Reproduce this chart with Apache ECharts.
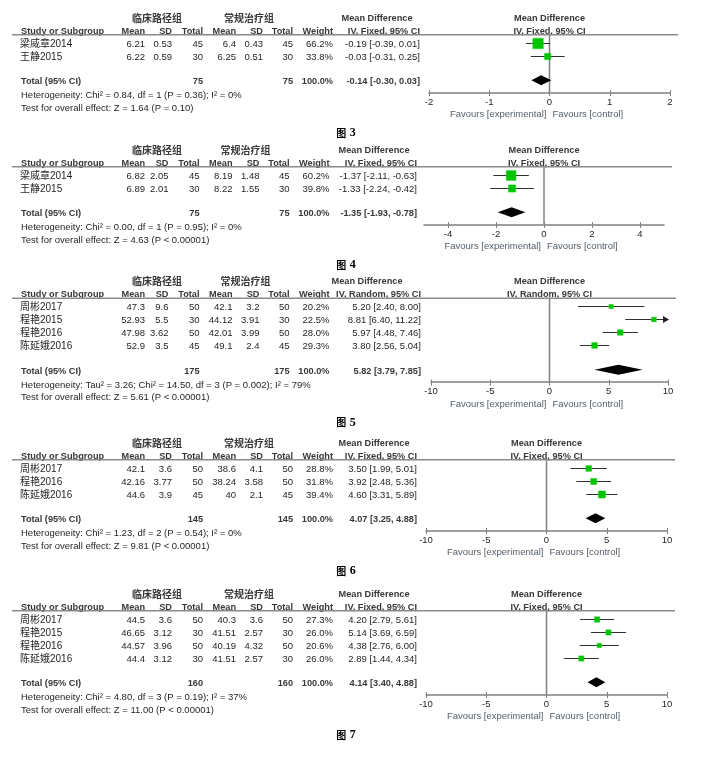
<!DOCTYPE html>
<html><head><meta charset="utf-8">
<script src="https://cdn.jsdelivr.net/npm/echarts@6/dist/echarts.min.js"></script>
<style>html,body{margin:0;padding:0;background:#fff}#c{width:721px;height:757px}</style>
</head><body><div id="c"></div>
<script>
// ================= DATA =================
// 图 3
const fig3Studies = ['梁威章2014', '王静2015'];
const fig3ExpMean = [6.21, 6.22];
const fig3ExpSD = [0.53, 0.59];
const fig3ExpN = [45, 30];
const fig3CtlMean = [6.4, 6.25];
const fig3CtlSD = [0.43, 0.51];
const fig3CtlN = [45, 30];
const fig3Weight = [66.2, 33.8];
const fig3MD = [-0.19, -0.03];
const fig3Lo = [-0.39, -0.31];
const fig3Hi = [0.01, 0.25];
const fig3Total = [-0.14, -0.30, 0.03];
const fig3TotalN = [75, 75];
const fig3Method = 'IV, Fixed, 95% CI';
const fig3Het = 'Heterogeneity: Chi² = 0.84, df = 1 (P = 0.36); I² = 0%';
const fig3Test = 'Test for overall effect: Z = 1.64 (P = 0.10)';
const fig3Ticks = [-2, -1, 0, 1, 2];
const fig3Range = [-2, 2];

// 图 4
const fig4Studies = ['梁威章2014', '王静2015'];
const fig4ExpMean = [6.82, 6.89];
const fig4ExpSD = [2.05, 2.01];
const fig4ExpN = [45, 30];
const fig4CtlMean = [8.19, 8.22];
const fig4CtlSD = [1.48, 1.55];
const fig4CtlN = [45, 30];
const fig4Weight = [60.2, 39.8];
const fig4MD = [-1.37, -1.33];
const fig4Lo = [-2.11, -2.24];
const fig4Hi = [-0.63, -0.42];
const fig4Total = [-1.35, -1.93, -0.78];
const fig4TotalN = [75, 75];
const fig4Method = 'IV, Fixed, 95% CI';
const fig4Het = 'Heterogeneity: Chi² = 0.00, df = 1 (P = 0.95); I² = 0%';
const fig4Test = 'Test for overall effect: Z = 4.63 (P < 0.00001)';
const fig4Ticks = [-4, -2, 0, 2, 4];
const fig4Range = [-5, 5];

// 图 5
const fig5Studies = ['周彬2017', '程艳2015', '程艳2016', '陈延娥2016'];
const fig5ExpMean = [47.3, 52.93, 47.98, 52.9];
const fig5ExpSD = [9.6, 5.5, 3.62, 3.5];
const fig5ExpN = [50, 30, 50, 45];
const fig5CtlMean = [42.1, 44.12, 42.01, 49.1];
const fig5CtlSD = [3.2, 3.91, 3.99, 2.4];
const fig5CtlN = [50, 30, 50, 45];
const fig5Weight = [20.2, 22.5, 28.0, 29.3];
const fig5MD = [5.20, 8.81, 5.97, 3.80];
const fig5Lo = [2.40, 6.40, 4.48, 2.56];
const fig5Hi = [8.00, 11.22, 7.46, 5.04];
const fig5Total = [5.82, 3.79, 7.85];
const fig5TotalN = [175, 175];
const fig5Method = 'IV, Random, 95% CI';
const fig5Het = 'Heterogeneity: Tau² = 3.26; Chi² = 14.50, df = 3 (P = 0.002); I² = 79%';
const fig5Test = 'Test for overall effect: Z = 5.61 (P < 0.00001)';
const fig5Ticks = [-10, -5, 0, 5, 10];
const fig5Range = [-10, 10];

// 图 6
const fig6Studies = ['周彬2017', '程艳2016', '陈延娥2016'];
const fig6ExpMean = [42.1, 42.16, 44.6];
const fig6ExpSD = [3.6, 3.77, 3.9];
const fig6ExpN = [50, 50, 45];
const fig6CtlMean = [38.6, 38.24, 40];
const fig6CtlSD = [4.1, 3.58, 2.1];
const fig6CtlN = [50, 50, 45];
const fig6Weight = [28.8, 31.8, 39.4];
const fig6MD = [3.50, 3.92, 4.60];
const fig6Lo = [1.99, 2.48, 3.31];
const fig6Hi = [5.01, 5.36, 5.89];
const fig6Total = [4.07, 3.25, 4.88];
const fig6TotalN = [145, 145];
const fig6Method = 'IV, Fixed, 95% CI';
const fig6Het = 'Heterogeneity: Chi² = 1.23, df = 2 (P = 0.54); I² = 0%';
const fig6Test = 'Test for overall effect: Z = 9.81 (P < 0.00001)';
const fig6Ticks = [-10, -5, 0, 5, 10];
const fig6Range = [-10, 10];

// 图 7
const fig7Studies = ['周彬2017', '程艳2015', '程艳2016', '陈延娥2016'];
const fig7ExpMean = [44.5, 46.65, 44.57, 44.4];
const fig7ExpSD = [3.6, 3.12, 3.96, 3.12];
const fig7ExpN = [50, 30, 50, 30];
const fig7CtlMean = [40.3, 41.51, 40.19, 41.51];
const fig7CtlSD = [3.6, 2.57, 4.32, 2.57];
const fig7CtlN = [50, 30, 50, 30];
const fig7Weight = [27.3, 26.0, 20.6, 26.0];
const fig7MD = [4.20, 5.14, 4.38, 2.89];
const fig7Lo = [2.79, 3.69, 2.76, 1.44];
const fig7Hi = [5.61, 6.59, 6.00, 4.34];
const fig7Total = [4.14, 3.40, 4.88];
const fig7TotalN = [160, 160];
const fig7Method = 'IV, Fixed, 95% CI';
const fig7Het = 'Heterogeneity: Chi² = 4.80, df = 3 (P = 0.19); I² = 37%';
const fig7Test = 'Test for overall effect: Z = 11.00 (P < 0.00001)';
const fig7Ticks = [-10, -5, 0, 5, 10];
const fig7Range = [-10, 10];

const captions = ['3', '4', '5', '6', '7'];
const expGroup = '临床路径组';
const ctlGroup = '常规治疗组';
const favLeft = 'Favours [experimental]';
const favRight = 'Favours [control]';

function mk(s, em, esd, en, cm, csd, cn, w, md, lo, hi, tot, totN, method, het, test, ticks, range) {
  return {s, em, esd, en, cm, csd, cn, w, md, lo, hi, tot, totN, method, het, test, ticks, range};
}
const panels = [
  mk(fig3Studies, fig3ExpMean, fig3ExpSD, fig3ExpN, fig3CtlMean, fig3CtlSD, fig3CtlN, fig3Weight, fig3MD, fig3Lo, fig3Hi, fig3Total, fig3TotalN, fig3Method, fig3Het, fig3Test, fig3Ticks, fig3Range),
  mk(fig4Studies, fig4ExpMean, fig4ExpSD, fig4ExpN, fig4CtlMean, fig4CtlSD, fig4CtlN, fig4Weight, fig4MD, fig4Lo, fig4Hi, fig4Total, fig4TotalN, fig4Method, fig4Het, fig4Test, fig4Ticks, fig4Range),
  mk(fig5Studies, fig5ExpMean, fig5ExpSD, fig5ExpN, fig5CtlMean, fig5CtlSD, fig5CtlN, fig5Weight, fig5MD, fig5Lo, fig5Hi, fig5Total, fig5TotalN, fig5Method, fig5Het, fig5Test, fig5Ticks, fig5Range),
  mk(fig6Studies, fig6ExpMean, fig6ExpSD, fig6ExpN, fig6CtlMean, fig6CtlSD, fig6CtlN, fig6Weight, fig6MD, fig6Lo, fig6Hi, fig6Total, fig6TotalN, fig6Method, fig6Het, fig6Test, fig6Ticks, fig6Range),
  mk(fig7Studies, fig7ExpMean, fig7ExpSD, fig7ExpN, fig7CtlMean, fig7CtlSD, fig7CtlN, fig7Weight, fig7MD, fig7Lo, fig7Hi, fig7Total, fig7TotalN, fig7Method, fig7Het, fig7Test, fig7Ticks, fig7Range)
];

// ================= LAYOUT =================
const gridTops = [35.35, 167.35, 298.85, 460.35, 611.35];
const gridLefts = [429, 424, 431, 426, 426];
const gridWidths = [241, 240, 237, 241, 241];
const colShift = [0, -3.5, -3.5, 0, 0];     // shift of SD..Weight columns per panel
const mdShift = [0, -3, 1, -3, -3];         // shift of Mean Difference column per panel
const PITCH = 13;
const Y_MIN = -0.55;
const TOTAL_GAP = 1.9;
const AXIS_GAP = 0.95;
const FONT = "'Liberation Sans', Arial, 'Noto Sans CJK SC', sans-serif";
const CJK = "'Noto Sans CJK SC', sans-serif";
const TXT = '#1f1f1f';
const HDR = '#383838';
const baseCols = {name: 20, em: 145, esd: 172, en: 203, cm: 236, csd: 263, cn: 293, w: 333, md: 420};

const f2 = v => v.toFixed(2);
const ciStr = (m, l, h) => `${f2(m)} [${f2(l)}, ${f2(h)}]`;

const grids = [], xAxes = [], yAxes = [], series = [], graphics = [];

panels.forEach((p, i) => {
  const n = p.s.length;
  const cs = colShift[i];
  const cols = {
    name: baseCols.name, em: baseCols.em, esd: baseCols.esd + cs, en: baseCols.en + cs, cm: baseCols.cm + cs,
    csd: baseCols.csd + cs, cn: baseCols.cn + cs, w: baseCols.w + cs, md: baseCols.md + mdShift[i]
  };
  const yMax = n - 1 + TOTAL_GAP + AXIS_GAP;
  const height = (yMax - Y_MIN) * PITCH;
  const top = gridTops[i], left = gridLefts[i], width = gridWidths[i];
  const [xmin, xmax] = p.range;
  grids.push({left, top, width, height, outerBoundsMode: 'none', containLabel: false});
  const axisColor = '#808080';
  xAxes.push({
    type: 'value', gridIndex: i, min: xmin, max: xmax, position: 'bottom',
    axisLine: {show: true, onZero: false, lineStyle: {color: axisColor, width: 1.5}},
    axisTick: {show: true, length: 3.5, customValues: p.ticks, lineStyle: {color: axisColor, width: 1}},
    axisLabel: {show: true, customValues: p.ticks, margin: 5, fontSize: 9.5, color: TXT, fontFamily: FONT},
    splitLine: {show: false}
  });
  // second axis: positioned at top then shifted down onto the bottom line, giving upward tick halves
  xAxes.push({
    type: 'value', gridIndex: i, min: xmin, max: xmax, position: 'top', offset: -height,
    axisLine: {show: false, onZero: false},
    axisTick: {show: true, inside: false, length: 2.5, customValues: p.ticks, lineStyle: {color: axisColor, width: 1}},
    axisLabel: {show: false},
    splitLine: {show: false}
  });
  yAxes.push({type: 'value', gridIndex: i, min: Y_MIN, max: yMax, inverse: true, show: false});

  // zero line
  series.push({
    type: 'line', xAxisIndex: 2 * i, yAxisIndex: i, data: [[0, Y_MIN], [0, yMax]],
    showSymbol: false, symbol: 'none', lineStyle: {color: axisColor, width: 1.5},
    silent: true, animation: false, z: 1
  });

  // studies
  const rows = p.s.map((_, k) => [p.md[k], p.lo[k], p.hi[k], p.w[k], k]);
  series.push({
    type: 'custom', xAxisIndex: 2 * i, yAxisIndex: i, data: rows, clip: false,
    encode: {x: [0, 1, 2], y: 4}, animation: false, silent: true, z: 3,
    renderItem: (params, api) => {
      const md = api.value(0), lo = api.value(1), hi = api.value(2), w = api.value(3), r = api.value(4);
      const a = api.coord([Math.max(lo, xmin), r]);
      const b = api.coord([Math.min(hi, xmax), r]);
      const c = api.coord([md, r]);
      const s = 0.45 * Math.pow(w, 0.75);
      const yy = Math.round(a[1]) + 0.5;
      const children = [{type: 'line', shape: {x1: a[0], y1: yy, x2: b[0], y2: yy}, style: {stroke: '#303030', lineWidth: 1}}];
      if (hi > xmax) children.push({type: 'polygon', shape: {points: [[b[0] + 1, yy], [b[0] - 5, yy - 3.5], [b[0] - 5, yy + 3.5]]}, style: {fill: '#202020'}});
      if (lo < xmin) children.push({type: 'polygon', shape: {points: [[a[0] - 1, yy], [a[0] + 5, yy - 3.5], [a[0] + 5, yy + 3.5]]}, style: {fill: '#202020'}});
      children.push({type: 'rect', shape: {x: c[0] - s / 2, y: yy - s / 2, width: s, height: s}, style: {fill: '#00c400', stroke: '#22d022', lineWidth: 0.6}});
      return {type: 'group', children};
    }
  });

  // diamond
  const totRow = n - 1 + TOTAL_GAP;
  series.push({
    type: 'custom', xAxisIndex: 2 * i, yAxisIndex: i, data: [[p.tot[0], p.tot[1], p.tot[2], totRow]], clip: false,
    encode: {x: [0, 1, 2], y: 3}, animation: false, silent: true, z: 3,
    renderItem: (params, api) => {
      const r = api.value(3);
      const l = api.coord([api.value(1), r]), m = api.coord([api.value(0), r]), h = api.coord([api.value(2), r]);
      const hh = 5;
      return {type: 'polygon', shape: {points: [[l[0], l[1]], [m[0], m[1] - hh], [h[0], h[1]], [m[0], m[1] + hh]]}, style: {fill: '#000'}};
    }
  });

  // ---- table text ----
  const rowY = r => top + (r - Y_MIN) * PITCH;
  const zeroX = left + (0 - xmin) / (xmax - xmin) * width;
  const axisY = top + height;
  const T = (text, x, y, align, bold, extra) => graphics.push({
    type: 'text', silent: true,
    style: Object.assign({text, x, y, align, verticalAlign: 'middle', fontSize: bold ? 9.2 : 9.5,
      fontFamily: FONT, fontWeight: bold ? 'bold' : 'normal', fill: bold ? HDR : TXT}, extra || {})
  });
  const r0 = rowY(0) + 1.5;
  const colHdrY = r0 - 13, grpY = r0 - 26;
  T(expGroup, 157, grpY, 'center', true, {fontFamily: CJK, fontSize: 10});
  T(ctlGroup, 249 + cs, grpY, 'center', true, {fontFamily: CJK, fontSize: 10});
  T('Mean Difference', p.method.indexOf('Random') >= 0 ? 367 : 377 + mdShift[i], grpY, 'center', true);
  T('Mean Difference', zeroX, grpY, 'center', true);
  T('Study or Subgroup', 21, colHdrY, 'left', true);
  T('Mean', cols.em, colHdrY, 'right', true);
  T('SD', cols.esd, colHdrY, 'right', true);
  T('Total', cols.en, colHdrY, 'right', true);
  T('Mean', cols.cm, colHdrY, 'right', true);
  T('SD', cols.csd, colHdrY, 'right', true);
  T('Total', cols.cn, colHdrY, 'right', true);
  T('Weight', cols.w, colHdrY, 'right', true);
  T(p.method, cols.md, colHdrY, 'right', true);
  T(p.method, zeroX, colHdrY, 'center', true);
  graphics.push({type: 'line', silent: true, shape: {x1: 12, y1: top - 0.5, x2: left + width + 8, y2: top - 0.5},
    style: {stroke: '#8a8a8a', lineWidth: 1.5}});
  p.s.forEach((name, k) => {
    const y = rowY(k) + 1.5;
    T(name, cols.name, y, 'left', false, {fontSize: 10});
    T(String(p.em[k]), cols.em, y, 'right');
    T(String(p.esd[k]), cols.esd, y, 'right');
    T(String(p.en[k]), cols.en, y, 'right');
    T(String(p.cm[k]), cols.cm, y, 'right');
    T(String(p.csd[k]), cols.csd, y, 'right');
    T(String(p.cn[k]), cols.cn, y, 'right');
    T(p.w[k].toFixed(1) + '%', cols.w, y, 'right');
    T(ciStr(p.md[k], p.lo[k], p.hi[k]), cols.md, y, 'right');
  });
  const ty = rowY(totRow) + 1.5;
  T('Total (95% CI)', 21, ty, 'left', true);
  T(String(p.totN[0]), cols.en, ty, 'right', true);
  T(String(p.totN[1]), cols.cn, ty, 'right', true);
  T('100.0%', cols.w, ty, 'right', true);
  T(ciStr(p.tot[0], p.tot[1], p.tot[2]), cols.md, ty, 'right', true);
  const hy = ty + 14, tsy = hy + 12.5;
  T(p.het, 21, hy, 'left');
  T(p.test, 21, tsy, 'left');
  T(favLeft, zeroX - 3, axisY + 22, 'right', false, {fill: '#55606a'});
  T(favRight, zeroX + 3, axisY + 22, 'left', false, {fill: '#55606a'});
  graphics.push({
    type: 'text', silent: true,
    style: {text: '{a|图} {b|' + captions[i] + '}', x: 346, y: tsy + 25, align: 'center', verticalAlign: 'middle',
      rich: {
        a: {fontFamily: CJK, fontSize: 10, fontWeight: 'bold', color: '#2f9a2f'},
        b: {fontFamily: "'Liberation Serif', 'DejaVu Serif', serif", fontSize: 12, fontWeight: 'bold', color: '#1d6e55'}
      }}
  });
});

const chart = echarts.init(document.getElementById('c'), null, {renderer: 'canvas'});
chart.setOption({
  animation: false,
  backgroundColor: '#ffffff',
  grid: grids,
  xAxis: xAxes,
  yAxis: yAxes,
  series: series,
  graphic: {elements: graphics}
});
</script>
</body></html>
